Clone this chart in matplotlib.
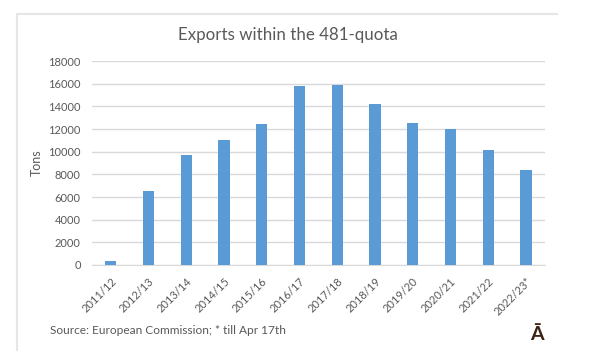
import matplotlib
matplotlib.use("Agg")
import matplotlib.pyplot as plt
from matplotlib.lines import Line2D
import numpy as np

# season labels and export volumes (tons)
seasons = ["2011/12", "2012/13", "2013/14", "2014/15", "2015/16", "2016/17",
           "2017/18", "2018/19", "2019/20", "2020/21", "2021/22", "2022/23*"]
tons = [350, 6550, 9750, 11000, 12450, 15800, 15900, 14200, 12550, 12000, 10150, 8400]
yticks = [0, 2000, 4000, 6000, 8000, 10000, 12000, 14000, 16000, 18000]

plt.rcParams['font.family'] = ['Lato', 'DejaVu Sans']
grey = "#595959"

fig = plt.figure(figsize=(6, 3.6), dpi=100)
ax = fig.add_axes([0.153, 0.264, 0.755, 0.566])

x = np.arange(len(seasons))
ax.bar(x, tons, width=0.3, color="#5b9bd5", zorder=3)

ax.set_xlim(-0.5, len(seasons) - 0.5)
ax.set_ylim(0, 18000)
ax.set_yticks(yticks)
ax.set_yticklabels([str(v) for v in yticks], fontsize=8, color=grey)
ax.set_xticks(x)
ax.set_xticklabels(seasons, rotation=45, ha="right", rotation_mode="anchor",
                   fontsize=8, color=grey)
ax.tick_params(length=0)
ax.tick_params(axis="y", pad=8)
ax.tick_params(axis="x", pad=8)
ax.grid(axis="y", color="#d9d9d9", linewidth=1, zorder=0)
for s in ["top", "right", "left"]:
    ax.spines[s].set_visible(False)
ax.spines["bottom"].set_color("#d9d9d9")
ax.set_ylabel("Tons", fontsize=9, color=grey)
ax.yaxis.set_label_coords(-0.108, 0.5)

fig.text(0.48, 0.903, "Exports within the 481-quota", ha="center", va="center",
         fontsize=12.2, color=grey)
fig.text(0.083, 0.081, "Source: European Commission; * till Apr 17th",
         ha="left", va="center", fontsize=8.6, color=grey)
fig.text(0.895, 0.072, "\u0100", ha="center", va="center", fontsize=14,
         fontweight="bold", color="#3b2314")

# light frame from the screenshot
fig.add_artist(Line2D([17/600, 557/600], [1 - 14/360, 1 - 14/360],
                      color="#e6e6e6", linewidth=1.5, transform=fig.transFigure))
fig.add_artist(Line2D([17/600, 17/600], [1 - 14/360, 1 - 350/360],
                      color="#e6e6e6", linewidth=1.5, transform=fig.transFigure))

fig.savefig("out.png", dpi=100, facecolor="white")
